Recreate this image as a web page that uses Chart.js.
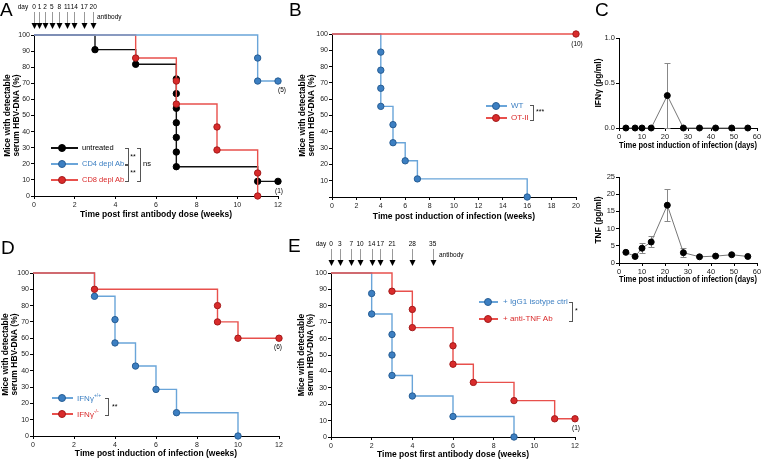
<!DOCTYPE html>
<html><head><meta charset="utf-8">
<script src="https://cdn.jsdelivr.net/npm/chart.js@4.4.1/dist/chart.umd.min.js"></script>
<style>
html,body{margin:0;padding:0;background:#fff;}
#wrap{position:relative;width:762px;height:460px;overflow:hidden;font-family:"Liberation Sans",Arial,Helvetica,sans-serif;color:#000;}
#wrap canvas{position:absolute;}
.t{position:absolute;white-space:nowrap;line-height:1;}
.c{transform:translate(-50%,-50%);}
.l{transform:translate(0,-50%);}
.letter{font-size:19px;}
.br{position:absolute;border:1px solid #555;border-left:none;}
.lg{position:absolute;height:0;}
.lg .ln{position:absolute;top:-0.75px;height:1.5px;}
.lg .dt{position:absolute;width:6px;height:6px;border-radius:50%;top:-4px;border:1px solid;}
</style></head>
<body><div id="wrap"></div>
<script>
// ---------------- DATA ----------------
// Panel A (weeks after first antibody dose, % mice with detectable HBV-DNA)
const aUntreatedT = [0, 3, 5, 7, 7, 7, 7, 7, 7, 7, 11, 12];
const aUntreatedS = [100, 90.9, 81.8, 72.7, 63.6, 54.5, 45.5, 36.4, 27.3, 18.2, 9.1, 9.1];
const aCD4T = [0, 11, 11, 12];
const aCD4S = [100, 85.7, 71.4, 71.4];
const aCD8T = [0, 5, 7, 7, 9, 9, 11, 11];
const aCD8S = [100, 85.7, 71.4, 57.1, 42.9, 28.6, 14.3, 0];
const aArrowDays = ['0', '1', '2', '5', '8', '11', '14', '17', '20'];
const aArrowWeeks = [0, 0.27, 0.54, 0.87, 1.24, 1.64, 1.98, 2.47, 2.91];
// Panel B (weeks post induction)
const bWTT = [0, 4, 4, 4, 4, 5, 5, 6, 7, 16];
const bWTS = [100, 88.9, 77.8, 66.7, 55.6, 44.4, 33.3, 22.2, 11.1, 0];
const bOTT = [0, 20];
const bOTS = [100, 100];
// Panel C (days post induction)
const cDays = [3, 7, 10, 14, 21, 28, 35, 42, 49, 56];
const cIFN = [0, 0, 0, 0, 0.36, 0, 0, 0, 0, 0];
const cIFNHi = [null, null, null, null, 0.72, null, null, null, null, null];
const cIFNLo = [null, null, null, null, 0, null, null, null, null, null];
const cTNF = [3.1, 1.9, 4.3, 6.1, 16.8, 3.0, 1.8, 2.0, 2.4, 1.9];
const cTNFHi = [null, null, 5.8, 7.8, 21.5, 4.5, null, null, null, null];
const cTNFLo = [null, null, 2.9, 4.6, 12.3, 1.6, null, null, null, null];
// Panel D (weeks post induction)
const dWtT = [0, 3, 4, 4, 5, 6, 7, 10];
const dWtS = [100, 85.7, 71.4, 57.1, 42.9, 28.6, 14.3, 0];
const dKoT = [0, 3, 9, 9, 10, 12];
const dKoS = [100, 90, 80, 70, 60, 60];
// Panel E (weeks after first antibody dose)
const eIgT = [0, 2, 2, 3, 3, 3, 4, 6, 9];
const eIgS = [100, 87.5, 75, 62.5, 50, 37.5, 25, 12.5, 0];
const eTnfT = [0, 3, 4, 4, 6, 6, 7, 9, 11, 12];
const eTnfS = [100, 88.9, 77.8, 66.7, 55.6, 44.4, 33.3, 22.2, 11.1, 11.1];
const eArrowDays = ['0', '3', '7', '10', '14', '17', '21', '28', '35'];
const eArrowWeeks = [0, 0.43, 1, 1.43, 2, 2.43, 3, 4, 5];

// ---------------- STYLE ----------------
const FONT = '"Liberation Sans", Arial, Helvetica, sans-serif';
const BLUE_L = '#6aa5d9', BLUE_F = '#3c7fc2', BLUE_B = '#285e94';
const RED_L = '#e8504c', RED_F = '#d92b2b', RED_B = '#a31b1b';
const BLK = '#000';
const wrap = document.getElementById('wrap');

function addText(x, y, s, cls, style) {
  const d = document.createElement('div');
  d.className = 't ' + (cls || '');
  d.style.left = x + 'px'; d.style.top = y + 'px';
  if (style) Object.assign(d.style, style);
  d.innerHTML = s;
  wrap.appendChild(d);
  return d;
}
function bracket(x, y1, y2, w) {
  const d = document.createElement('div');
  d.className = 'br';
  d.style.left = (x - w) + 'px'; d.style.top = y1 + 'px';
  d.style.width = w + 'px'; d.style.height = (y2 - y1) + 'px';
  wrap.appendChild(d);
  return d;
}
function legendItem(x1, x2, dotX, y, lineCol, fill, border) {
  const g = document.createElement('div');
  g.className = 'lg'; g.style.left = '0px'; g.style.top = y + 'px';
  const ln = document.createElement('div'); ln.className = 'ln';
  ln.style.left = x1 + 'px'; ln.style.width = (x2 - x1) + 'px'; ln.style.background = lineCol;
  const dt = document.createElement('div'); dt.className = 'dt';
  dt.style.left = (dotX - 4) + 'px'; dt.style.background = fill; dt.style.borderColor = border;
  g.appendChild(ln); g.appendChild(dt); wrap.appendChild(g);
}

const kmPts = (t, s) => t.map((x, i) => ({x: x, y: s[i]}));
const kmRad = (t) => t.map((x, i) => i === 0 ? 0 : 3.2);

function kmSet(t, s, line, fill, border) {
  return {
    data: kmPts(t, s), stepped: 'before', borderColor: line, borderWidth: 1.4,
    pointRadius: kmRad(t), pointBackgroundColor: fill, pointBorderColor: border,
    pointBorderWidth: 1, fill: false, clip: false
  };
}

const arrowPlugin = {
  id: 'arrows',
  afterDraw(chart, args, opts) {
    if (!opts || !opts.pos) return;
    const ctx = chart.ctx, xs = chart.scales.x;
    ctx.save();
    opts.pos.forEach(w => {
      const x = Math.round(xs.getPixelForValue(w)) + 0.5;
      ctx.strokeStyle = '#999'; ctx.lineWidth = 1;
      ctx.beginPath(); ctx.moveTo(x, opts.y0); ctx.lineTo(x, opts.y1 - 5); ctx.stroke();
      ctx.fillStyle = '#000';
      ctx.beginPath(); ctx.moveTo(x - 3, opts.y1 - 6); ctx.lineTo(x + 3, opts.y1 - 6); ctx.lineTo(x, opts.y1); ctx.closePath(); ctx.fill();
    });
    ctx.restore();
  }
};
const errPlugin = {
  id: 'errbars',
  beforeDatasetsDraw(chart, args, opts) {
    if (!opts || !opts.hi) return;
    const ctx = chart.ctx, xs = chart.scales.x, ys = chart.scales.y;
    ctx.save(); ctx.strokeStyle = '#888'; ctx.lineWidth = 1;
    opts.x.forEach((d, i) => {
      const hi = opts.hi[i], lo = opts.lo[i];
      if (hi == null) return;
      const px = Math.round(xs.getPixelForValue(d)) + 0.5;
      const t = Math.round(ys.getPixelForValue(hi)) + 0.5, b = Math.round(ys.getPixelForValue(lo)) + 0.5;
      ctx.beginPath();
      ctx.moveTo(px, t); ctx.lineTo(px, b);
      ctx.moveTo(px - 3, t); ctx.lineTo(px + 3, t);
      ctx.moveTo(px - 3, b); ctx.lineTo(px + 3, b);
      ctx.stroke();
    });
    ctx.restore();
  }
};
Chart.register(arrowPlugin, errPlugin);

function makeCanvas(left, top, w, h) {
  const c = document.createElement('canvas');
  c.width = w; c.height = h;
  c.style.left = left + 'px'; c.style.top = top + 'px';
  c.style.width = w + 'px'; c.style.height = h + 'px';
  wrap.appendChild(c);
  return c;
}

function axisCommon(extra) {
  return Object.assign({
    grid: {display: true, drawOnChartArea: false, drawTicks: true, tickLength: 3, color: '#000', lineWidth: 1},
    border: {display: true, color: '#000', width: 1}
  }, extra);
}

function kmChart(o) {
  const c = makeCanvas(o.left, o.top, o.w, o.h);
  return new Chart(c, {
    type: 'line',
    data: {datasets: o.datasets},
    options: {
      responsive: false, animation: false, events: [],
      layout: {padding: {left: 0, top: o.T, right: o.R, bottom: 0}},
      plugins: {legend: {display: false}, tooltip: {enabled: false}, arrows: o.arrows || {}, errbars: {}},
      scales: {
        x: axisCommon({
          type: 'linear', min: 0, max: o.xmax,
          ticks: {stepSize: 2, font: {family: FONT, size: 7}, color: '#222', padding: 2, maxRotation: 0, autoSkip: false},
          title: {display: true, text: o.xtitle, font: {family: FONT, size: 8.5, weight: 'bold'}, color: '#000', padding: {top: 0, bottom: o.xtpad}},
          afterFit: s => { s.height = o.H; s.paddingLeft = 0; s.paddingRight = 0; }
        }),
        y: axisCommon({
          type: 'linear', min: 0, max: 100,
          ticks: {stepSize: 10, font: {family: FONT, size: 7}, color: '#222', padding: 1,
            callback: v => (o.hideZero && v === 0) ? '' : v},
          title: {display: true, text: ['Mice with detectable', 'serum HBV-DNA (%)'],
            font: {family: FONT, size: 8.5, weight: 'bold', lineHeight: 1.05}, color: '#000', padding: {top: o.ytpad, bottom: 0}},
          afterFit: s => { s.width = o.W; s.paddingTop = 0; s.paddingBottom = 0; }
        })
      }
    }
  });
}

// ---------------- PANEL A ----------------
const chA = kmChart({
  left: 0, top: 0, w: 300, h: 222, W: 34, T: 35, R: 22, H: 26, xmax: 12,
  xtitle: 'Time post first antibody dose (weeks)', xtpad: 2, ytpad: 3,
  arrows: {pos: aArrowWeeks, y0: 12, y1: 29},
  datasets: [
    kmSet(aCD4T, aCD4S, BLUE_L, BLUE_F, BLUE_B),
    kmSet(aCD8T, aCD8S, RED_L, RED_F, RED_B),
    kmSet(aUntreatedT, aUntreatedS, '#111', BLK, BLK)
  ]
});
// ---------------- PANEL B ----------------
const chB = kmChart({
  left: 290, top: 0, w: 300, h: 222, W: 42, T: 34, R: 14, H: 25, xmax: 20,
  xtitle: 'Time post induction of infection (weeks)', xtpad: 0, ytpad: 8, hideZero: true,
  datasets: [
    kmSet(bOTT, bOTS, RED_L, RED_F, RED_B),
    kmSet(bWTT, bWTS, BLUE_L, BLUE_F, BLUE_B)
  ]
});
// ---------------- PANEL D ----------------
const chD = kmChart({
  left: 0, top: 230, w: 300, h: 230, W: 33, T: 43, R: 21, H: 24, xmax: 12,
  xtitle: 'Time post induction of infection (weeks)', xtpad: 1, ytpad: 1,
  datasets: [
    kmSet(dKoT, dKoS, RED_L, RED_F, RED_B),
    kmSet(dWtT, dWtS, BLUE_L, BLUE_F, BLUE_B)
  ]
});
// ---------------- PANEL E ----------------
const chE = kmChart({
  left: 290, top: 230, w: 300, h: 230, W: 41, T: 43, R: 15, H: 23, xmax: 12,
  xtitle: 'Time post first antibody dose (weeks)', xtpad: 0, ytpad: 7,
  arrows: {pos: eArrowWeeks, y0: 19, y1: 36},
  datasets: [
    kmSet(eTnfT, eTnfS, RED_L, RED_F, RED_B),
    kmSet(eIgT, eIgS, BLUE_L, BLUE_F, BLUE_B)
  ]
});

// ---------------- PANEL C ----------------
function cytoChart(o) {
  const c = makeCanvas(o.left, o.top, o.w, o.h);
  return new Chart(c, {
    type: 'line',
    data: {datasets: [{
      data: cDays.map((d, i) => ({x: d, y: o.vals[i]})),
      borderColor: '#777', borderWidth: 1, pointRadius: 3,
      pointBackgroundColor: '#000', pointBorderColor: '#000', pointBorderWidth: 1, clip: false
    }]},
    options: {
      responsive: false, animation: false, events: [],
      layout: {padding: {left: 0, top: o.T, right: o.R, bottom: 0}},
      plugins: {legend: {display: false}, tooltip: {enabled: false}, arrows: {},
        errbars: {x: cDays, hi: o.hi, lo: o.lo}},
      scales: {
        x: axisCommon({
          type: 'linear', min: 0, max: 60,
          ticks: {stepSize: 10, font: {family: FONT, size: 7.5}, color: '#222', padding: 1, maxRotation: 0},
          title: {display: true, text: 'Time post induction of infection (days)', font: {family: FONT, size: 8.5, weight: 'bold'}, color: '#000', padding: {top: 0, bottom: o.xtpad}},
          afterFit: s => { s.height = o.H; s.paddingLeft = 0; s.paddingRight = 0; }
        }),
        y: axisCommon({
          type: 'linear', min: 0, max: o.ymax,
          ticks: {stepSize: o.ystep, font: {family: FONT, size: 7.5}, color: '#222', padding: 1,
            callback: v => o.fix ? v.toFixed(1) : v},
          title: {display: true, text: o.ytitle, font: {family: FONT, size: 8.5, weight: 'bold'}, color: '#000', padding: {top: o.ytpad, bottom: 0}},
          afterFit: s => { s.width = o.W; s.paddingTop = 0; s.paddingBottom = 0; }
        })
      }
    }
  });
}
const chC1 = cytoChart({left: 570, top: 0, w: 192, h: 155, W: 49, T: 38, R: 4, H: 27, xtpad: 4, ytpad: 24,
  vals: cIFN, hi: cIFNHi, lo: cIFNLo, ymax: 1.0, ystep: 0.5, fix: true, ytitle: 'IFNγ (pg/ml)'});
const chC2 = cytoChart({left: 570, top: 160, w: 192, h: 130, W: 49, T: 17, R: 4, H: 27, xtpad: 5, ytpad: 24,
  vals: cTNF, hi: cTNFHi, lo: cTNFLo, ymax: 25, ystep: 5, fix: false, ytitle: 'TNF (pg/ml)'});

// ---------------- ANNOTATIONS ----------------
addText(0, 0, 'A', 'letter'); addText(289, 0, 'B', 'letter'); addText(595, 0, 'C', 'letter');
addText(1, 238, 'D', 'letter'); addText(288, 236, 'E', 'letter');

// arrows labels
function arrowLabels(ch, left, pos, days, y, dayX) {
  addText(dayX, y, 'day', 'c', {fontSize: '6.5px'});
  pos.forEach((w, i) => addText(left + ch.scales.x.getPixelForValue(w), y, days[i], 'c', {fontSize: '6.5px'}));
}
arrowLabels(chA, 0, aArrowWeeks, aArrowDays, 7, 23);
addText(97, 17, 'antibody', 'l', {fontSize: '6.5px'});
arrowLabels(chE, 290, eArrowWeeks, eArrowDays, 244, 321);
addText(439, 255, 'antibody', 'l', {fontSize: '6.5px'});

// end-of-curve counts
addText(282, 90, '(5)', 'c', {fontSize: '6.5px'});
addText(279, 191, '(1)', 'c', {fontSize: '6.5px'});
addText(577, 44, '(10)', 'c', {fontSize: '6.5px'});
addText(278, 347, '(6)', 'c', {fontSize: '6.5px'});
addText(576, 428, '(1)', 'c', {fontSize: '6.5px'});

// legend A
legendItem(51, 78, 62, 148, '#111', BLK, BLK);
legendItem(51, 78, 62, 164, BLUE_L, BLUE_F, BLUE_B);
legendItem(51, 78, 62, 180, RED_L, RED_F, RED_B);
addText(82, 148, 'untreated', 'l', {fontSize: '7.5px'});
addText(82, 164, 'CD4 depl Ab', 'l', {fontSize: '7.5px', color: BLUE_F});
addText(82, 180, 'CD8 depl Ab', 'l', {fontSize: '7.5px', color: RED_F});
bracket(128, 148, 164, 3); bracket(128, 164, 180, 3);
addText(133, 156, '**', 'c', {fontSize: '7px'}); addText(133, 172, '**', 'c', {fontSize: '7px'});
bracket(140, 148, 180, 3);
addText(143, 164, 'ns', 'l', {fontSize: '7.5px'});

// legend B
legendItem(486, 507, 496, 106, BLUE_L, BLUE_F, BLUE_B);
legendItem(486, 507, 496, 118, RED_L, RED_F, RED_B);
addText(511, 106, 'WT', 'l', {fontSize: '8px', color: BLUE_F});
addText(511, 118, 'OT-II', 'l', {fontSize: '8px', color: RED_F});
bracket(533, 105, 119, 3);
addText(536, 111, '***', 'l', {fontSize: '7px'});

// legend D
legendItem(52, 73, 62, 398, BLUE_L, BLUE_F, BLUE_B);
legendItem(52, 73, 62, 414, RED_L, RED_F, RED_B);
addText(77, 398, 'IFNγ<sup style="font-size:5px">+/+</sup>', 'l', {fontSize: '8px', color: BLUE_F});
addText(77, 414, 'IFNγ<sup style="font-size:5px">-/-</sup>', 'l', {fontSize: '8px', color: RED_F});
bracket(108, 398, 414, 3);
addText(112, 406, '**', 'l', {fontSize: '7px'});

// legend E
legendItem(479, 498, 488, 302, BLUE_L, BLUE_F, BLUE_B);
legendItem(479, 498, 488, 319, RED_L, RED_F, RED_B);
addText(503, 302, '+ IgG1 isotype ctrl', 'l', {fontSize: '8px', color: BLUE_F});
addText(503, 319, '+ anti-TNF Ab', 'l', {fontSize: '8px', color: RED_F});
bracket(572, 302, 320, 3);
addText(575, 310, '*', 'l', {fontSize: '7px'});
</script>
</body></html>
